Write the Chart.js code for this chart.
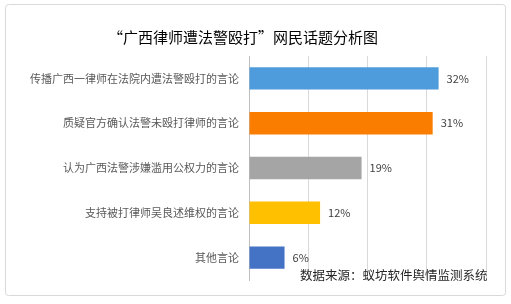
<!DOCTYPE html>
<html>
<head>
<meta charset="utf-8">
<script src="https://cdn.jsdelivr.net/npm/chart.js@4"></script>
<style>
    html, body { margin: 0; padding: 0; background: #ffffff; }
    #wrap { width: 511px; height: 304px; }
</style>
</head>
<body>
<div id="wrap"><canvas id="topicChart"></canvas></div>
<script>
// Chart data
const chartTitle = '“广西律师遭法警殴打”网民话题分析图';
const categories = [
    '传播广西一律师在法院内遭法警殴打的言论',
    '质疑官方确认法警未殴打律师的言论',
    '认为广西法警涉嫌滥用公权力的言论',
    '支持被打律师吴良述维权的言论',
    '其他言论'
];
const shares = [32, 31, 19, 12, 6];
const barColors = ['#4E9CDB', '#FB7D00', '#A5A5A5', '#FFC000', '#4472C4'];
const xTicks = [0, 10, 20, 30, 40];
const sourceNote = '数据来源：蚁坊软件舆情监测系统';

const cjkFont = '"Noto Sans CJK SC", "Noto Sans", sans-serif';

// Frame + white background
const framePlugin = {
    id: 'frame',
    beforeDraw(chart) {
        const c = chart.ctx;
        c.save();
        c.fillStyle = '#ffffff';
        c.fillRect(0, 0, chart.width, chart.height);
        c.strokeStyle = '#D9D9D9';
        c.lineWidth = 1;
        c.beginPath();
        c.roundRect(5.5, 4.5, 500, 291, 3);
        c.stroke();
        c.restore();
    }
};

// Percentage labels at bar ends + source note
const labelPlugin = {
    id: 'barLabels',
    afterDatasetsDraw(chart) {
        const c = chart.ctx;
        const meta = chart.getDatasetMeta(0);
        c.save();
        c.font = '11px ' + cjkFont;
        c.fillStyle = '#404040';
        c.textAlign = 'left';
        c.textBaseline = 'middle';
        meta.data.forEach((bar, i) => {
            c.fillText(shares[i] + '%', bar.x + 8, bar.y);
        });
        c.font = '12.5px ' + cjkFont;
        c.fillStyle = '#262626';
        c.fillText(sourceNote, 300, 275);
        c.restore();
    }
};

new Chart(document.getElementById('topicChart'), {
    type: 'bar',
    data: {
        labels: categories,
        datasets: [{
            data: shares,
            backgroundColor: barColors,
            borderWidth: 0,
            barPercentage: 0.5,
            categoryPercentage: 1.0
        }]
    },
    options: {
        indexAxis: 'y',
        responsive: true,
        maintainAspectRatio: false,
        animation: false,
        layout: {
            padding: { left: 0, right: 25, top: 0, bottom: 24 }
        },
        plugins: {
            legend: { display: false },
            tooltip: { enabled: false },
            title: {
                display: true,
                text: chartTitle,
                color: '#000000',
                font: { family: cjkFont, size: 15, weight: 'normal' },
                padding: { top: 28, bottom: 10 }
            }
        },
        scales: {
            x: {
                min: xTicks[0],
                max: xTicks[xTicks.length - 1],
                afterBuildTicks: scale => {
                    scale.ticks = xTicks.map(v => ({ value: v }));
                },
                ticks: { display: false },
                grid: { color: '#D9D9D9', drawTicks: false },
                border: { display: false },
                afterFit: scale => { scale.height = 0; }
            },
            y: {
                grid: { display: false, drawTicks: false },
                border: { display: true, color: '#BFBFBF' },
                ticks: {
                    color: '#595959',
                    font: { family: cjkFont, size: 11 },
                    padding: 10
                },
                afterFit: scale => { scale.width = 249; }
            }
        }
    },
    plugins: [framePlugin, labelPlugin]
});
</script>
</body>
</html>
